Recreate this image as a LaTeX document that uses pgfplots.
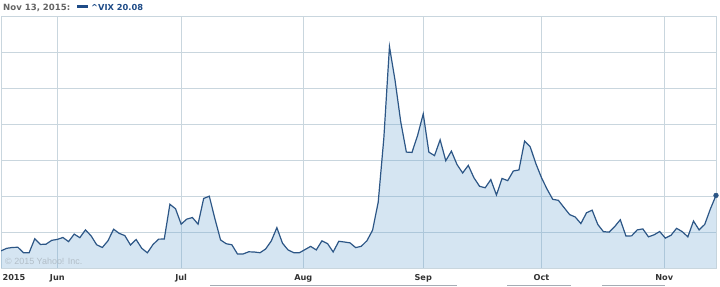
\documentclass[border=0pt]{standalone}
\usepackage{pgfplots}
\usepackage{pgfplotstable}
\pgfplotsset{compat=1.18}
\usepackage{fontspec}
\setmainfont{DejaVu Sans}
\newfontfamily\wmfont{Liberation Sans}
\definecolor{gridc}{RGB}{201,214,222}
\definecolor{linec}{RGB}{44,86,134}
\definecolor{fillc}{RGB}{91,155,207}
\definecolor{labc}{RGB}{51,51,51}
\definecolor{hdrgray}{RGB}{100,100,100}
\definecolor{hdrblue}{RGB}{30,75,135}
\definecolor{wmc}{RGB}{178,190,200}
\definecolor{barc}{RGB}{165,172,180}

\pgfplotstableread{
x y
0 12.38
1 12.73
2 12.85
3 12.88
4 12.11
5 12.13
6 14.06
7 13.27
8 13.31
9 13.84
10 13.97
11 14.24
12 13.66
13 14.71
14 14.21
15 15.29
16 14.47
17 13.22
18 12.85
19 13.78
20 15.39
21 14.81
22 14.50
23 13.19
24 13.96
25 12.74
26 12.11
27 13.26
28 14.01
29 14.02
30 18.85
31 18.23
32 16.09
33 16.79
34 17.01
35 16.09
36 19.66
37 19.97
38 16.83
39 13.90
40 13.37
41 13.23
42 11.95
43 11.95
44 12.25
45 12.22
46 12.12
47 12.64
48 13.74
49 15.60
50 13.44
51 12.50
52 12.13
53 12.12
54 12.56
55 13.00
56 12.51
57 13.77
58 13.39
59 12.23
60 13.71
61 13.61
62 13.49
63 12.83
64 13.02
65 13.79
66 15.25
67 19.14
68 28.03
69 40.74
70 36.02
71 30.32
72 26.10
73 26.05
74 28.43
75 31.40
76 26.09
77 25.61
78 27.80
79 24.90
80 26.23
81 24.37
82 23.20
83 24.25
84 22.54
85 21.35
86 21.14
87 22.28
88 20.14
89 22.44
90 22.13
91 23.47
92 23.62
93 27.63
94 26.83
95 24.50
96 22.55
97 20.94
98 19.54
99 19.40
100 18.40
101 17.42
102 17.08
103 16.17
104 17.67
105 18.03
106 16.05
107 15.05
108 14.98
109 15.75
110 16.70
111 14.45
112 14.46
113 15.29
114 15.43
115 14.33
116 14.61
117 15.07
118 14.15
119 14.54
120 15.51
121 15.05
122 14.33
123 16.52
124 15.29
125 16.06
126 18.20
127 20.08
}\vix

\begin{document}
\begin{tikzpicture}
\useasboundingbox (0bp,0bp) rectangle (720bp,287bp);
\fill[white] (0bp,0bp) rectangle (720bp,287bp);
\begin{axis}[at={(1bp,19bp)}, anchor=south west, scale only axis,
  width=715bp, height=252bp,
  xmin=0, xmax=127, ymin=10, ymax=45,
  xtick={10,32,53.7,75,96,117.8}, xticklabels={Jun,Jul,Aug,Sep,Oct,Nov},
  extra x ticks={2.3}, extra x tick labels={2015}, extra x tick style={grid=none},
  ytick={10,15,...,45}, yticklabels={},
  grid=major, grid style={gridc, line width=0.9bp},
  axis line style={gridc, line width=0.9bp},
  major tick length=0pt,
  xticklabel style={anchor=base, yshift=-12bp, font=\bfseries\fontsize{8.2}{9}\selectfont, text=labc},
  clip=true,
]
\addplot[draw=none, fill=fillc, fill opacity=0.25] table[x=x,y=y] {\vix} \closedcycle;
\addplot[linec, line width=1.2bp] table[x=x,y=y] {\vix};
\addplot[only marks, mark=*, mark size=2.4bp, linec] coordinates {(127,20.08)};
\node[anchor=base west, font=\wmfont\fontsize{9}{10}\selectfont, text=wmc, inner sep=0pt] at (rel axis cs:0.0056,0.012) {\textcopyright{} 2015 Yahoo! Inc.};
\end{axis}
\node[anchor=base west, inner sep=0pt, font=\bfseries\fontsize{8.6}{9}\selectfont, text=hdrgray] at (3bp,276.5bp) {Nov 13, 2015:};
\fill[hdrblue] (77bp,279bp) rectangle (88bp,282bp);
\node[anchor=base west, inner sep=0pt, font=\bfseries\fontsize{8.3}{9}\selectfont, text=hdrblue] at (91bp,276.5bp) {\textasciicircum VIX 20.08};
\draw[barc, line width=0.9bp] (210bp,1.5bp) -- (457bp,1.5bp);
\draw[barc, line width=0.9bp] (507bp,1.5bp) -- (571bp,1.5bp);
\draw[barc, line width=0.9bp] (602bp,1.5bp) -- (665bp,1.5bp);
\end{tikzpicture}
\end{document}
